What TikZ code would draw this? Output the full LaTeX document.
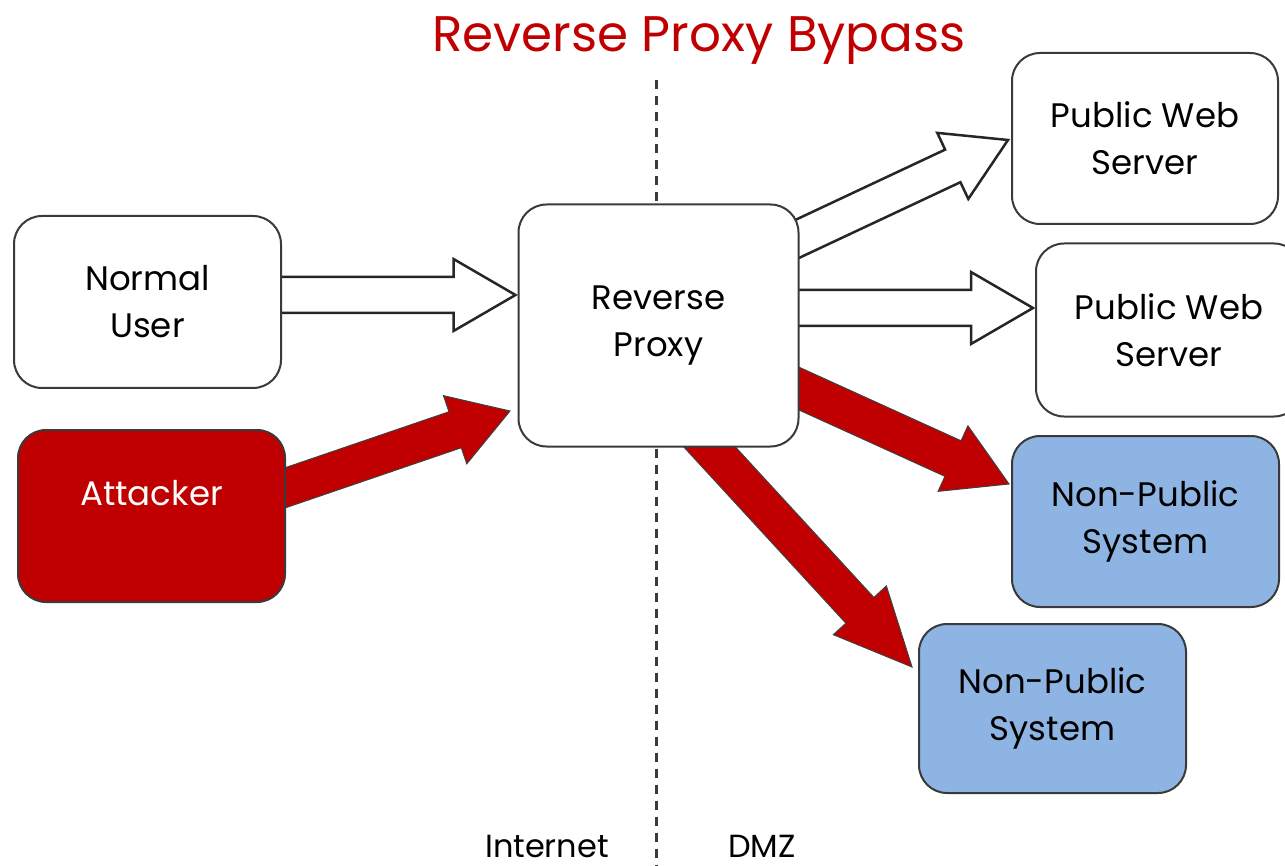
\documentclass[tikz,border=0pt]{standalone}
\usepackage{fontspec}
\setmainfont{Poppins}
\usetikzlibrary{calc,backgrounds}
\definecolor{darkred}{HTML}{C00000}
\definecolor{npblue}{HTML}{8EB4E3}
\definecolor{edgegray}{HTML}{3A3A3A}
% block arrow: #1 start, #2 tip, #3 shaft half width, #4 head half width, #5 head length, #6 style
\newcommand{\blockarr}[6]{%
  \coordinate (bh) at ($(#2)!#5!(#1)$);
  \draw[#6] ($(#1)!#3!90:(#2)$) -- ($(bh)!#3!-90:(#1)$) -- ($(bh)!#4!-90:(#1)$) -- (#2)
     -- ($(bh)!#4!90:(#1)$) -- ($(bh)!#3!90:(#1)$) -- ($(#1)!#3!-90:(#2)$) -- cycle;}
\begin{document}
\begin{tikzpicture}[x=1pt,y=-1pt,
  box/.style={draw=edgegray, line width=2pt, rounded corners=28pt, align=center,
    inner sep=0pt, outer sep=0pt, fill=white, text=black,
    font=\fontsize{34}{47}\selectfont},
  whitearr/.style={draw=black!85, line width=2.5pt, fill=white, line join=miter},
  redarr/.style={draw=black!75, line width=1pt, fill=darkred, line join=miter},
  lbl/.style={font=\fontsize{32}{38}\selectfont, text=black, inner sep=0pt, anchor=base}]
\useasboundingbox (0,0) rectangle (1285,866);

\node[lbl, font=\fontsize{50}{56}\selectfont, text=darkred] (title) at (699,52) {Reverse Proxy Bypass};

\node[box, minimum width=267pt, minimum height=172pt] (nu) at (147.5,302) {Normal\\User};
\node[box, minimum width=267pt, minimum height=172pt, fill=darkred, text=white] (att) at (151.5,516) {Attacker\\\phantom{A}};
\node[box, minimum width=280pt, minimum height=242pt] (rp) at (658.5,325.5) {Reverse\\Proxy};
\node[box, minimum width=266pt, minimum height=171pt] (pws1) at (1145,138.5) {Public Web\\Server};
\node[box, minimum width=266pt, minimum height=173pt] (pws2) at (1169,330) {Public Web\\Server};
\node[box, minimum width=267pt, minimum height=171pt, fill=npblue] (np1) at (1145.5,521.5) {Non-Public\\System};
\node[box, minimum width=267pt, minimum height=169pt, fill=npblue] (np2) at (1052.5,708.5) {Non-Public\\System};

\node[lbl] (inet) at (547,857) {Internet};
\node[lbl] (dmz) at (762,857) {DMZ};

\begin{pgfonlayer}{background}
  \coordinate (dtop) at ($(rp.north)+(-2,-124)$);
  \coordinate (dbot) at ($(rp.south)+(-2,420)$);
  \draw[edgegray, line width=2.2pt, dash pattern=on 9pt off 7pt] (dtop) -- (dbot);

  \coordinate (a1s) at ($(nu.east)+(-10,-7)$);
  \coordinate (a1e) at ($(rp.west)+(-3,-30.5)$);
  \blockarr{a1s}{a1e}{18pt}{36pt}{62pt}{whitearr}

  \coordinate (a2s) at ($(att.east)+(-15,-23)$);
  \coordinate (a2e) at ($(rp.west)+(-8.5,85.5)$);
  \blockarr{a2s}{a2e}{19pt}{36pt}{58pt}{redarr}

  \coordinate (a3s) at ($(rp.east)+(-18.5,-78.5)$);
  \coordinate (a3e) at ($(pws1.west)+(-4,1.5)$);
  \blockarr{a3s}{a3e}{18pt}{36.5pt}{61pt}{whitearr}

  \coordinate (a4s) at ($(rp.east)+(-18.5,-17.5)$);
  \coordinate (a4e) at ($(pws2.west)+(-3,-22)$);
  \blockarr{a4s}{a4e}{18pt}{36pt}{62pt}{whitearr}

  \coordinate (a5s) at ($(rp.east)+(-8.5,59)$);
  \coordinate (a5e) at ($(np1.west)+(-3,-37.5)$);
  \blockarr{a5s}{a5e}{19.5pt}{36pt}{61.5pt}{redarr}

  \coordinate (a6s) at ($(rp.south)+(35.5,-16.5)$);
  \coordinate (a6e) at ($(np2.west)+(-7,-41.5)$);
  \blockarr{a6s}{a6e}{19pt}{36pt}{77pt}{redarr}
\end{pgfonlayer}
\end{tikzpicture}
\end{document}
